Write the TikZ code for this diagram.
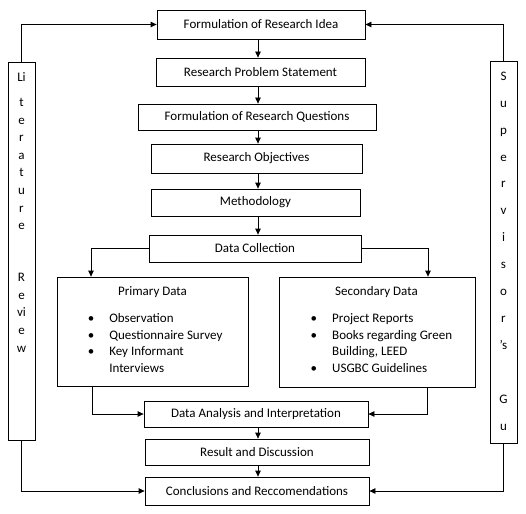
\documentclass[tikz,border=0pt]{standalone}
\usepackage{fontspec}
\setmainfont{Carlito}
\usetikzlibrary{arrows.meta,positioning}

\newcommand{\itembul}{\makebox[21.5pt][l]{\textbullet}}
\newcommand{\itemgap}{\makebox[21.5pt][l]{}}

\tikzset{
  stepbox/.style={draw, line width=0.8pt, inner sep=0pt, font=\fontsize{13}{15.6}\selectfont},
  sidebox/.style={draw, line width=0.8pt, inner sep=0pt, minimum width=27pt},
  flow/.style={line width=0.8pt, -{Triangle[length=6pt,width=5.5pt]}},
  plaintext/.style={inner sep=0pt, font=\fontsize{13}{15.6}\selectfont}
}

\begin{document}
\begin{tikzpicture}[x=1pt,y=-1pt]
 \useasboundingbox (0,0) rectangle (526,513);
 \coordinate (spine) at (258,0); % column of the down arrows

 % main column
 \node[stepbox, minimum width=208pt, minimum height=29pt] (idea) at (261,24.5) {Formulation of Research Idea};
 \node[stepbox, minimum width=209pt, minimum height=28pt] (problem) at (260.5,72) {Research Problem Statement};
 \node[stepbox, minimum width=238pt, minimum height=26pt] (questions) at (257,117) {Formulation of Research Questions};
 \node[stepbox, minimum width=211pt, minimum height=29pt] (objectives) at (256.5,158.5) {Research Objectives};
 \node[stepbox, minimum width=209pt, minimum height=27pt] (method) at (255.5,202.5) {Methodology};
 \node[stepbox, minimum width=212pt, minimum height=27pt] (collection) at (255,248.5) {Data Collection};

 % the two data boxes (text anchored on the baseline of its last line)
 \node[stepbox, minimum width=191pt, minimum height=109pt] (primary) at (152.5,331.5) {};
 \node[plaintext, anchor=base] (primtitle) at (152.5,295) {Primary Data};
 \node[plaintext, anchor=base west, align=left, font=\fontsize{13}{16.4}\selectfont] (primlist) at (87.6,372)
   {\itembul Observation\\ \itembul Questionnaire Survey\\ \itembul Key Informant\\ \itemgap Interviews};

 \node[stepbox, minimum width=196pt, minimum height=110pt] (secondary) at (377,332) {};
 \node[plaintext, anchor=base] (sectitle) at (376.5,295) {Secondary Data};
 \node[plaintext, anchor=base west, align=left, font=\fontsize{13}{16.4}\selectfont] (seclist) at (310.5,372)
   {\itembul Project Reports\\ \itembul Books regarding Green\\ \itemgap Building, LEED\\ \itembul USGBC Guidelines};

 \node[stepbox, minimum width=224pt, minimum height=26pt] (analysis) at (256,414) {Data Analysis and Interpretation};
 \node[stepbox, minimum width=224pt, minimum height=26pt] (result) at (257,452) {Result and Discussion};
 \node[stepbox, minimum width=224pt, minimum height=28pt] (concl) at (257,491) {Conclusions and Reccomendations};

 % side boxes
 \node[sidebox, minimum height=378pt] (lit) at (21.5,251) {};
 \node[plaintext, anchor=base, align=center, font=\fontsize{13}{17.6}\selectfont] (littext) at (21.5,352)
   {Li\\[7.4pt]t\\e\\r\\a\\t\\u\\r\\e\\[34.4pt]R\\e\\vi\\e\\w};
 \node[sidebox, minimum height=382pt] (sup) at (503.5,252) {};
 \node[plaintext, anchor=base, align=center, font=\fontsize{13}{26.9}\selectfont] (suptext) at (503.5,430)
   {S\\u\\p\\e\\r\\v\\i\\s\\o\\r\\'s\\[26.9pt]G\\u};

 % down the middle
 \draw[flow] (idea.south -| spine) -- (problem.north -| spine);
 \draw[flow] (problem.south -| spine) -- (questions.north -| spine);
 \draw[flow] (questions.south -| spine) -- (objectives.north -| spine);
 \draw[flow] (objectives.south -| spine) -- (method.north -| spine);
 \draw[flow] (method.south -| spine) -- (collection.north -| spine);
 \draw[flow] (analysis.south -| spine) -- (result.north -| spine);
 \draw[flow] (result.south -| spine) -- (concl.north -| spine);

 % split and join
 \draw[flow] (collection.west) -| ([xshift=-61.5pt]primary.north);
 \draw[flow] (collection.east) -| ([xshift=51pt]secondary.north);
 \draw[flow] ([xshift=-60.5pt]primary.south) |- (analysis.west);
 \draw[flow] ([xshift=50pt]secondary.south) |- (analysis.east);

 % feedback from the side boxes
 \draw[flow] (lit.north) |- (idea.west);
 \draw[flow] (sup.north) |- (idea.east);
 \draw[flow] (lit.south) |- (concl.west);
 \draw[flow] (sup.south) |- (concl.east);
\end{tikzpicture}
\end{document}
